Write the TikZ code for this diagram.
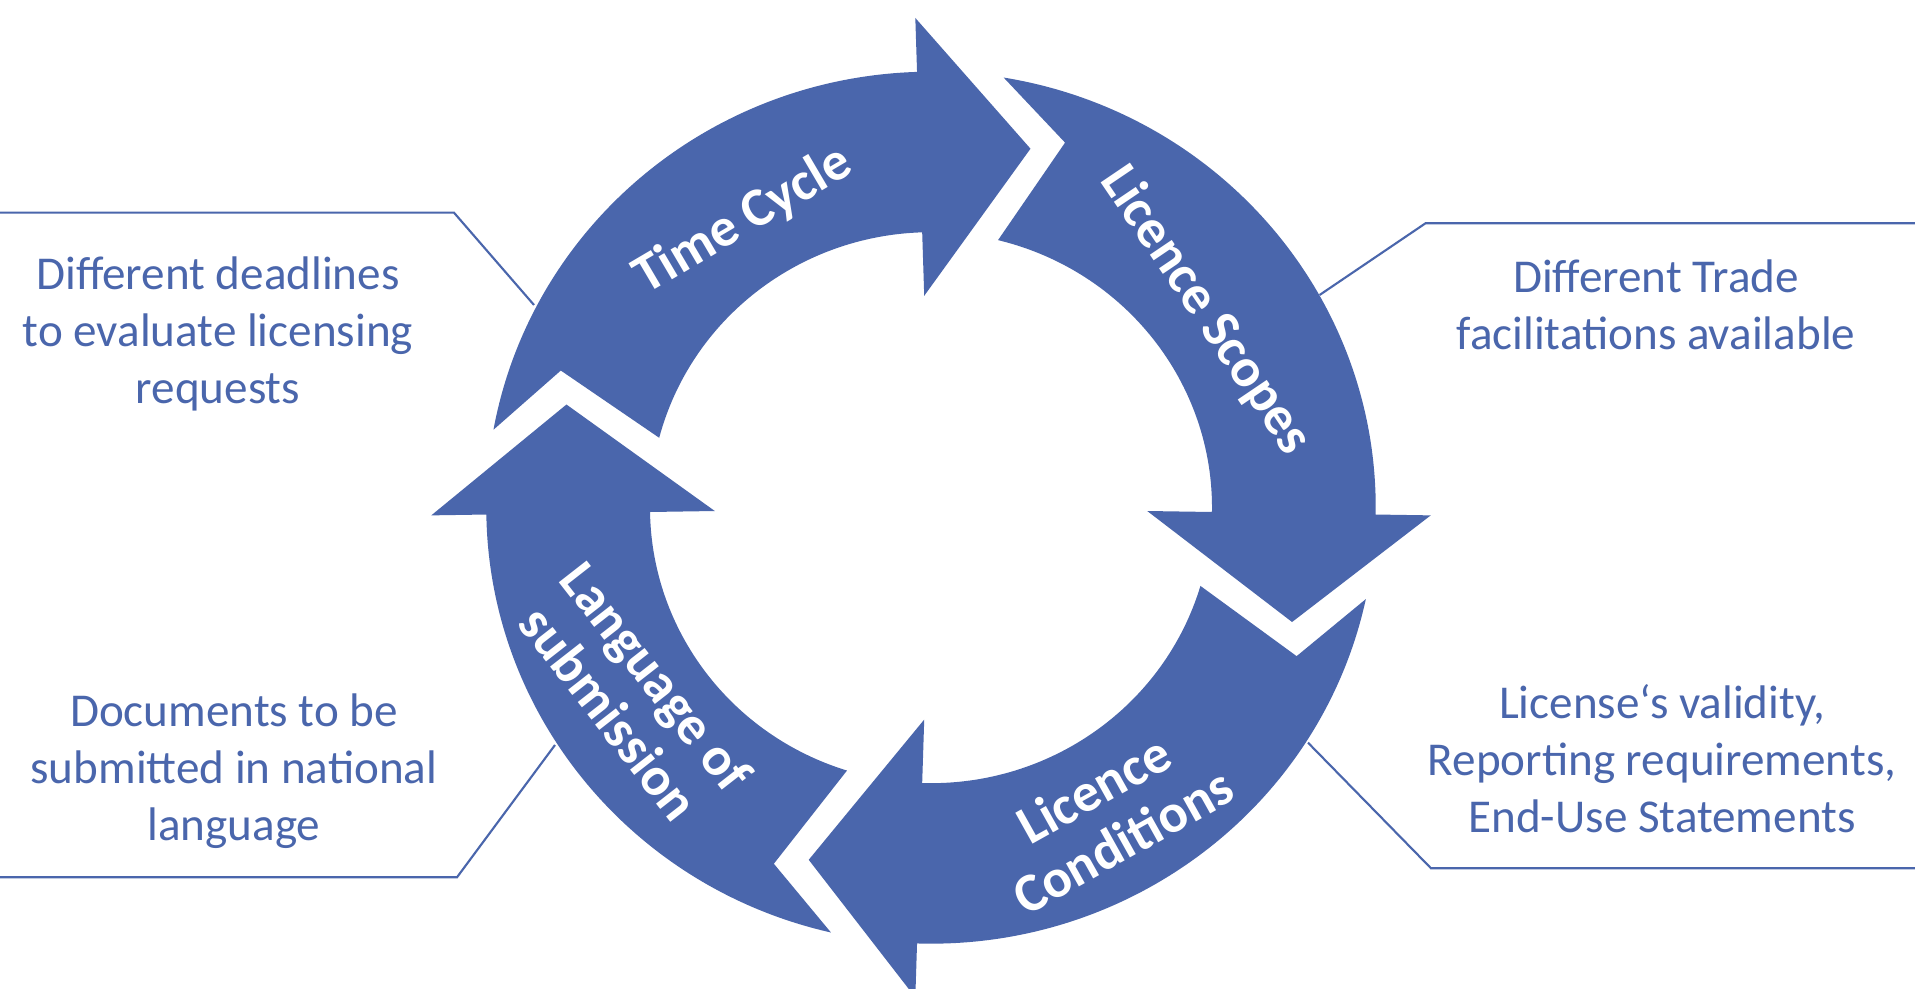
\documentclass[tikz,border=0pt]{standalone}
\usepackage{fontspec}
\setmainfont{Carlito}
\usepackage{tikz}
\definecolor{ringblue}{HTML}{4A66AC}
\definecolor{bgtint}{HTML}{DCE8EE}
\pgfdeclareradialshading{backdrop}{\pgfpoint{0bp}{0bp}}{color(0bp)=(white); color(38bp)=(white); color(72bp)=(bgtint)}
\tikzstyle{ring}=[fill=ringblue, draw=none]
\tikzstyle{stage}=[text=white, font=\fontsize{15.5}{17}\selectfont\bfseries, align=center, inner sep=0pt]
\tikzstyle{note}=[text=ringblue, font=\fontsize{13.4}{16.2}\selectfont, align=center, inner sep=0pt]
\tikzstyle{pin}=[draw=ringblue, line width=0.6pt]
% one arrow of the ring: tail after the head at angle #1, own head base at angle #2
\newcommand{\ringarrow}[2]{({#1-11.2}:436) arc[start angle={#1-11.2}, end angle={#2}, radius=436]
	-- (#2:490) -- ({#2-17}:372) -- (#2:212) -- (#2:275.5)
	arc[start angle={#2}, end angle={#1-15.6}, radius=275.5] -- ({#1-21.6}:388) -- cycle}

\begin{document}
\begin{tikzpicture}[x=0.01cm, y=0.01cm]
	%The backdrop
	\shade[shading=backdrop] (0,0) rectangle (1915,989);
	\useasboundingbox (0,0) rectangle (1915,989);
	
	%The pointer lines
	\coordinate (deadlines-end) at (0,776.3);
	\coordinate (deadlines-bend) at (454,776.3);
	\coordinate (deadlines-tip) at (534,684);
	\coordinate (trade-end) at (1915,765.7);
	\coordinate (trade-bend) at (1425.5,765.7);
	\coordinate (trade-tip) at (1319.6,694);
	\coordinate (documents-end) at (0,111.7);
	\coordinate (documents-bend) at (457,111.7);
	\coordinate (documents-tip) at (555,244);
	\coordinate (validity-end) at (1915,120.7);
	\coordinate (validity-bend) at (1431,120.7);
	\coordinate (validity-tip) at (1308,246.3);
	
	\draw[pin] (deadlines-end) -- (deadlines-bend) -- (deadlines-tip);
	\draw[pin] (trade-end) -- (trade-bend) -- (trade-tip);
	\draw[pin] (documents-end) -- (documents-bend) -- (documents-tip);
	\draw[pin] (validity-end) -- (validity-bend) -- (validity-tip);
	
	%The ring of arrows
	\begin{scope}[shift={(931,481.3)}, xscale=1.02]
		\fill[ring] \ringarrow{180.9}{91.8};
		\fill[ring] \ringarrow{91.8}{-0.9};
		\fill[ring] \ringarrow{-0.9}{-91.8};
		\fill[ring] \ringarrow{-91.8}{-179.1};
	\end{scope}
	
	%The stage labels
	\node[stage, rotate=30.5] (time) at (743,768.3) {Time Cycle};
	\node[stage, rotate=-55.9] (scopes) at (1205.5,678.5) {Licence Scopes};
	\node[stage, rotate=29.2] (conditions) at (1108,174.1) {Licence\\Conditions};
	\node[stage, rotate=-52] (language) at (633,294.6) {Language of\\submission};
	
	%The notes
	\node[note] (deadlines) at (218,655.3) {Different deadlines\\to evaluate licensing\\requests};
	\node[note] (trade) at (1656,684) {Different Trade\\facilitations available};
	\node[note] (documents) at (234,217.7) {Documents to be\\submitted in national\\language};
	\node[note] (validity) at (1662,230.4) {License‘s validity,\\Reporting requirements,\\End-Use Statements};
\end{tikzpicture}
\end{document}
